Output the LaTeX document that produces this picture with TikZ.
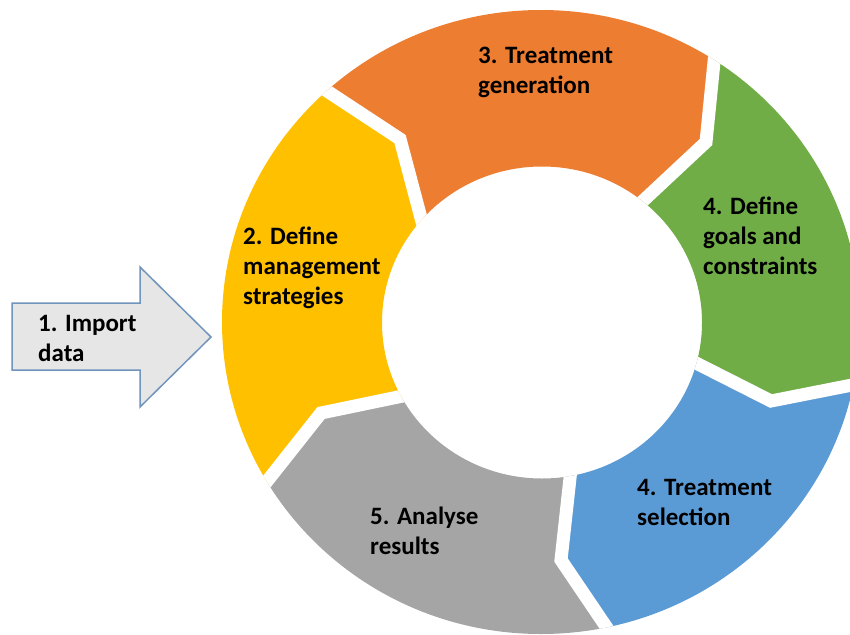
\documentclass[tikz,border=0pt]{standalone}
\usepackage{fontspec}
\setmainfont{Carlito}
\usetikzlibrary{calc}
\definecolor{cyellow}{HTML}{FFC000}
\definecolor{corange}{HTML}{ED7D31}
\definecolor{cgreen}{HTML}{70AD47}
\definecolor{cblue}{HTML}{5B9BD5}
\definecolor{cgray}{HTML}{A5A5A5}
\definecolor{arrowfill}{HTML}{E6E6E6}
\definecolor{arrowline}{HTML}{7094BC}
\begin{document}
\begin{tikzpicture}[x=1pt,y=-1pt,
  lbl/.style={font=\bfseries\fontsize{25}{30}\selectfont, align=left, anchor=west, inner sep=0pt, text=black},
  gap/.style={draw=white, line width=13pt, line join=miter}]
\useasboundingbox (0,0) rectangle (850,634);
\coordinate (C) at (541,322);
% boundaries: outer, kink, inner
\coordinate (B1o) at (327,91);  \coordinate (B1k) at (400,139); \coordinate (B1i) at (421,218);
\coordinate (B2o) at (714,62);  \coordinate (B2k) at (706,142); \coordinate (B2i) at (645,199);
\coordinate (B3o) at (852,385); \coordinate (B3k) at (771,401); \coordinate (B3i) at (696,363);
\coordinate (B4o) at (607,628); \coordinate (B4k) at (561,560); \coordinate (B4i) at (570,478);
\coordinate (B5o) at (268,480); \coordinate (B5k) at (321,413); \coordinate (B5i) at (398,397);
\foreach \b in {B1,B2,B3,B4,B5}{
  \coordinate (\b oe) at ($(\b k)!2.5!(\b o)$);
  \coordinate (\b ie) at ($(\b k)!1.4!(\b i)$);
}
\begin{scope}
  \clip (0,0) rectangle (850,634);
  \begin{scope}[even odd rule]
  \clip (C) ellipse[x radius=319, y radius=312] (542,322.5) ellipse[x radius=160, y radius=156];
  \fill[corange] (C) -- (B1ie) -- (B1i) -- (B1k) -- (B1o) -- (B1oe) -- (B2oe) -- (B2o) -- (B2k) -- (B2i) -- (B2ie) -- cycle;
  \fill[cgreen] (C) -- (B2ie) -- (B2i) -- (B2k) -- (B2o) -- (B2oe) -- (B3oe) -- (B3o) -- (B3k) -- (B3i) -- (B3ie) -- cycle;
  \fill[cblue] (C) -- (B3ie) -- (B3i) -- (B3k) -- (B3o) -- (B3oe) -- (B4oe) -- (B4o) -- (B4k) -- (B4i) -- (B4ie) -- cycle;
  \fill[cgray] (C) -- (B4ie) -- (B4i) -- (B4k) -- (B4o) -- (B4oe) -- (B5oe) -- (B5o) -- (B5k) -- (B5i) -- (B5ie) -- cycle;
  \fill[cyellow] (C) -- (B5ie) -- (B5i) -- (B5k) -- (B5o) -- (B5oe) -- (B1oe) -- (B1o) -- (B1k) -- (B1i) -- (B1ie) -- cycle;
  \foreach \b in {B1,B2,B3,B4,B5}{
    \draw[gap] (\b ie) -- (\b i) -- (\b k) -- (\b o) -- (\b oe);
  }
  \end{scope}
\end{scope}
% input arrow
\draw[fill=arrowfill, draw=arrowline, line width=1.5pt, line join=miter]
  (12,303) -- (140,303) -- (140,267) -- (211,337) -- (140,407) -- (140,370) -- (12,370) -- cycle;
\node[lbl] (t1) at (38,338) {1. Import\\data};
\node[lbl] (t2) at (243,268) {2. Define\\management\\strategies};
\node[lbl] (t3) at (478,72) {3. Treatment\\generation};
\node[lbl] (t4) at (703,236) {4. Define\\goals and\\constraints};
\node[lbl] (t5) at (637,502) {4. Treatment\\selection};
\node[lbl] (t6) at (370,531) {5. Analyse\\results};
\end{tikzpicture}
\end{document}
